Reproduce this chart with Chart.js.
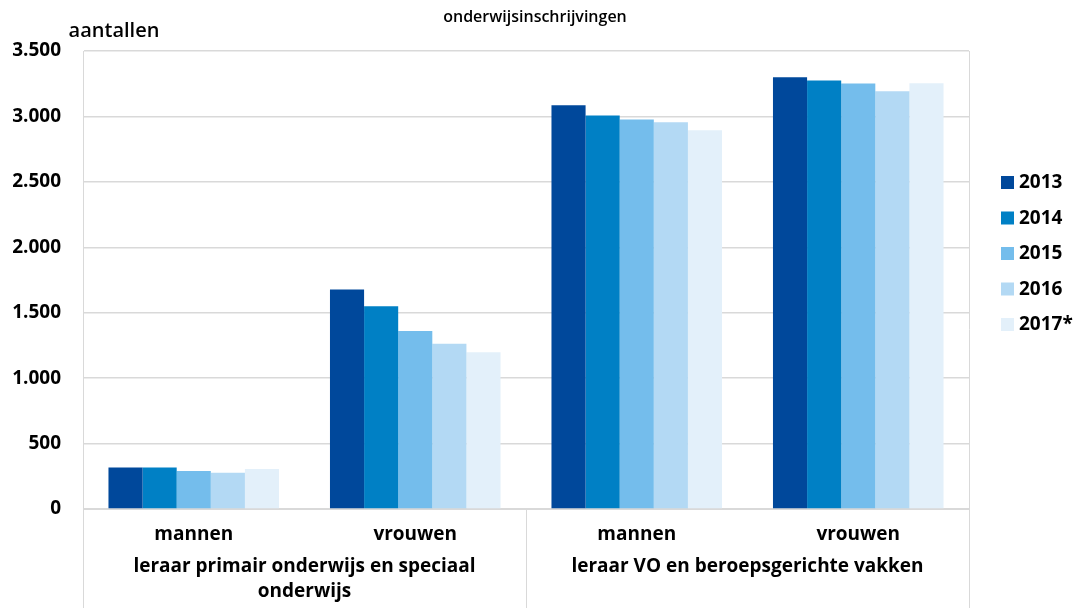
<!DOCTYPE html>
<html>
<head>
<meta charset="utf-8">
<script src="https://cdn.jsdelivr.net/npm/chart.js@4"></script>
<style>
    html, body { margin: 0; padding: 0; background: #fff; }
    #wrap { width: 1081px; height: 608px; }
</style>
</head>
<body>
<div id="wrap"><canvas id="enrolChart" width="1081" height="608"></canvas></div>
<script>
// Data
const categories = ['mannen', 'vrouwen', 'mannen', 'vrouwen'];
const groupLabels = [
    ['leraar primair onderwijs en speciaal', 'onderwijs'],
    ['leraar VO en beroepsgerichte vakken']
];
const years = ['2013', '2014', '2015', '2016', '2017*'];
const values2013 = [318, 1678, 3086, 3300];
const values2014 = [318, 1549, 3008, 3275];
const values2015 = [290, 1360, 2977, 3252];
const values2016 = [277, 1263, 2956, 3193];
const values2017 = [305, 1197, 2895, 3254];
const yMax = 3500;
const yStep = 500;

const chartTitle = 'onderwijsinschrijvingen';
const yTitle = 'aantallen';

const colors = ['#00489B', '#0080C5', '#74BDEC', '#B3D9F4', '#E3F0FA'];
const gridColor = '#D9D9D9';
const fontFamily = '"Open Sans", Lato, sans-serif';

const allValues = [values2013, values2014, values2015, values2016, values2017];

function formatNumber(v) {
    return String(v).replace(/\B(?=(\d{3})+(?!\d))/g, '.');
}

// Draws title, axis caption, group labels, separators and the legend
const decorPlugin = {
    id: 'decor',
    afterDraw(chart) {
        const ctx = chart.ctx;
        const area = chart.chartArea;
        const xScale = chart.scales.x;
        ctx.save();

        // separators below the axis
        ctx.strokeStyle = gridColor;
        ctx.lineWidth = 1;
        const mid = (xScale.getPixelForValue(1) + xScale.getPixelForValue(2)) / 2;
        [area.left, mid, area.right].forEach((x, i) => {
            ctx.beginPath();
            const px = Math.round(x) + 0.5;
            ctx.moveTo(px, i === 1 ? area.bottom : area.top);
            ctx.lineTo(px, chart.height);
            ctx.stroke();
        });

        ctx.fillStyle = '#000';
        ctx.textAlign = 'center';
        ctx.textBaseline = 'middle';

        // title
        ctx.font = '600 16px ' + fontFamily;
        ctx.fillText(chartTitle, 535, 17);

        // y caption
        ctx.font = '600 20px ' + fontFamily;
        ctx.fillText(yTitle, 114, 31);

        // group labels
        ctx.font = 'bold 19px ' + fontFamily;
        const centers = [(area.left + mid) / 2, (mid + area.right) / 2];
        groupLabels.forEach((lines, g) => {
            lines.forEach((line, i) => {
                ctx.fillText(line, centers[g], 567 + i * 25);
            });
        });

        // legend
        ctx.textAlign = 'left';
        ctx.font = 'bold 19px ' + fontFamily;
        chart.data.datasets.forEach((ds, i) => {
            const y = 183 + i * 35.5;
            ctx.fillStyle = ds.backgroundColor;
            ctx.fillRect(1001, y - 7, 13, 13);
            ctx.fillStyle = '#000';
            ctx.fillText(ds.label, 1019, y);
        });

        ctx.restore();
    }
};

const ctx = document.getElementById('enrolChart').getContext('2d');
const enrolChart = new Chart(ctx, {
    type: 'bar',
    data: {
        labels: categories,
        datasets: years.map((year, i) => ({
            label: year,
            data: allValues[i],
            backgroundColor: colors[i],
            borderWidth: 0,
            barPercentage: 1,
            categoryPercentage: 0.77
        }))
    },
    options: {
        responsive: false,
        animation: false,
        devicePixelRatio: 1,
        layout: {
            padding: { top: 51, right: 112, left: 0, bottom: 0 }
        },
        plugins: {
            legend: { display: false },
            title: { display: false },
            tooltip: { enabled: false }
        },
        scales: {
            x: {
                grid: { display: false },
                border: { display: true, color: gridColor, width: 1 },
                ticks: {
                    color: '#000',
                    padding: 6,
                    font: { family: fontFamily, size: 19, weight: 'bold' }
                },
                afterFit(scale) {
                    scale.height = 99;
                }
            },
            y: {
                min: 0,
                max: yMax,
                ticks: {
                    stepSize: yStep,
                    color: '#000',
                    padding: 22,
                    font: { family: fontFamily, size: 19, weight: 'bold' },
                    callback: function(value) {
                        return formatNumber(value);
                    }
                },
                grid: {
                    color: gridColor,
                    lineWidth: 1.5,
                    drawTicks: false
                },
                border: { display: true, color: gridColor, width: 1 },
                afterFit(scale) {
                    scale.width = 83;
                }
            }
        }
    },
    plugins: [decorPlugin]
});
</script>
</body>
</html>
